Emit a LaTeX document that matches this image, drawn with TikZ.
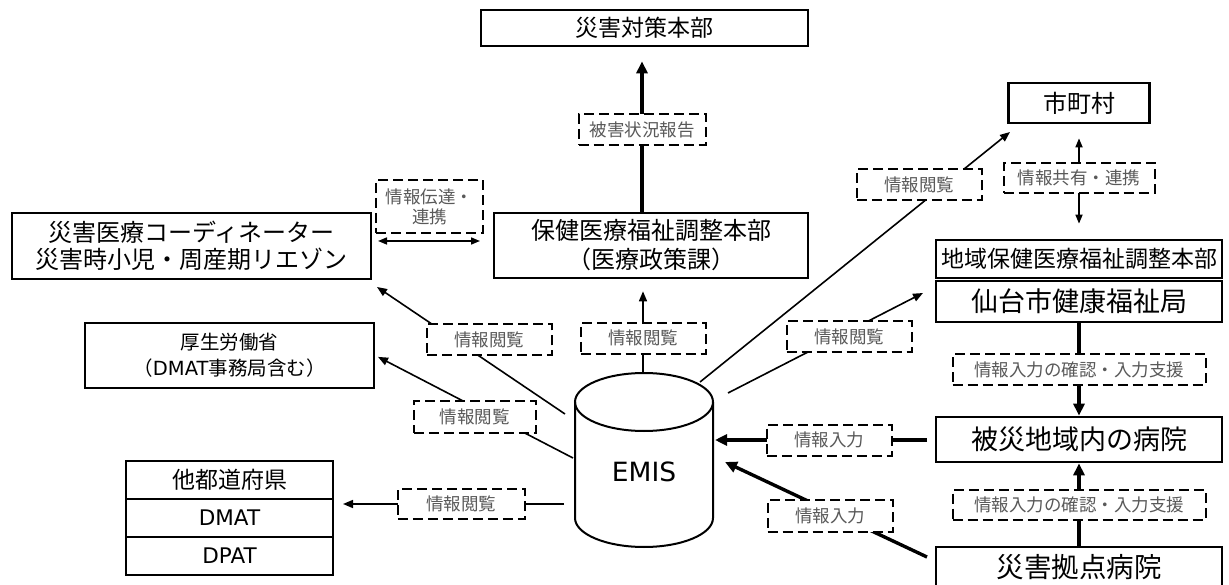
\documentclass[tikz,border=0pt]{standalone}
\usepackage{fontspec}
\setmainfont{Noto Sans CJK JP}
\newfontfamily\latinfont{DejaVu Sans}
\usepackage{tikz}
\usetikzlibrary{arrows.meta}
\definecolor{labelgray}{HTML}{595959}
\newcommand{\lat}[1]{{\latinfont #1}}
\tikzset{
  box/.style={draw, line width=2.7pt, inner sep=0pt, align=center},
  lbl/.style={draw, dash pattern=on 10pt off 5pt, line width=2pt, fill=white, text=labelgray,
    inner sep=0pt, minimum width=125pt, minimum height=31pt, align=center,
    font=\fontsize{17.5}{20}\selectfont},
  thinline/.style={line width=1.6pt},
  thinarrow/.style={line width=1.6pt, -{Triangle[length=10pt,width=8pt]}},
  biarrow/.style={line width=1.6pt, {Triangle[length=9pt,width=7pt]}-{Triangle[length=9pt,width=7pt]}},
  thickline/.style={line width=3.4pt},
  thickarrow/.style={line width=3.4pt, -{Triangle[length=12pt,width=11pt]}},
  cyl/.style={line width=2pt}
}

\begin{document}
\begin{tikzpicture}[x=1pt, y=-1pt]
\useasboundingbox (0,0) rectangle (1229,585);

% boxes
\node[box, minimum width=327pt, minimum height=36pt, font=\fontsize{23}{27}\selectfont] (taisaku) at (644.5,28) {災害対策本部};
\node[box, minimum width=314pt, minimum height=65pt, font=\fontsize{24}{29}\selectfont] (honbu) at (651,245.5) {保健医療福祉調整本部\\（医療政策課）};
\node[box, minimum width=359pt, minimum height=66pt, font=\fontsize{24}{27}\selectfont] (saigai) at (191.5,246) {災害医療コーディネーター\\災害時小児・周産期リエゾン};
\node[box, minimum width=289pt, minimum height=65pt, font=\fontsize{19.5}{26}\selectfont] (kousei) at (229.5,355.5) {厚生労働省\\（\lat{DMAT}事務局含む）};

% other prefectures
\node[box, minimum width=207pt, minimum height=38pt, font=\fontsize{23}{27}\selectfont] (pref) at (229.5,480) {他都道府県};
\node[box, minimum width=207pt, minimum height=38pt, font=\latinfont\fontsize{21.5}{25}\selectfont] (dmat) at (229.5,518) {DMAT};
\node[box, minimum width=207pt, minimum height=38pt, font=\latinfont\fontsize{21.5}{25}\selectfont] (dpat) at (229.5,556) {DPAT};

% right column
\node[box, minimum width=141pt, minimum height=40pt, font=\fontsize{24}{28}\selectfont] (shichoson) at (1079,103) {市町村};
\node[box, minimum width=286pt, minimum height=38pt, font=\fontsize{23}{27}\selectfont] (chiiki) at (1079,259) {地域保健医療福祉調整本部};
\node[box, minimum width=286pt, minimum height=41pt, font=\fontsize{27}{31}\selectfont] (sendai) at (1079,301.5) {仙台市健康福祉局};
\node[box, minimum width=286pt, minimum height=45pt, font=\fontsize{27}{31}\selectfont] (hisai) at (1079,439.5) {被災地域内の病院};
\node[box, minimum width=286pt, minimum height=41pt, font=\fontsize{27.5}{31}\selectfont] (kyoten) at (1079,567.5) {災害拠点病院};

% EMIS
\node[font=\latinfont\fontsize{26.5}{30}\selectfont] (emis) at (644,472) {EMIS};
\draw[cyl] (575,402) -- (575,518) arc[start angle=180, end angle=360, x radius=69pt, y radius=29pt] -- (713,402);
\draw[cyl] (644,402) ellipse [x radius=69pt, y radius=29pt];

\coordinate (emisN) at (643,373);
\coordinate (emisNE) at (700,382);
\coordinate (emisE1) at (728,393);
\coordinate (emisE2) at (715,440);
\coordinate (emisE3) at (725,462);
\coordinate (emisW1) at (565,414);
\coordinate (emisW2) at (573,458);
\coordinate (emisW3) at (564,504);
\coordinate (colT) at (642,0);
\coordinate (saigaiIn) at (377,287);
\coordinate (prefIn) at (343,504);
\coordinate (shiIn) at (1010,132);
\coordinate (sendaiIn) at (923,293);
\coordinate (hisaiOut) at (927,440);
\coordinate (kyotenOut) at (927,557);
\coordinate (renA) at (378,241);
\coordinate (renB) at (480,241);

% connectors
\draw[thickarrow, shorten >=14pt] (honbu.north -| colT) -- node[lbl, minimum width=127pt] (lHigai) {被害状況報告} (taisaku.south -| colT);
\draw[thinarrow, shorten >=12pt] (emisN) -- node[lbl, pos=.37] (lHonbu) {情報閲覧} (emisN |- honbu.south);
\draw[thinarrow] (emisW1) -- node[lbl, pos=.583, xshift=34pt] (lSaigai) {情報閲覧} (saigaiIn);
\draw[thinarrow, shorten >=3pt] (emisW2) -- node[lbl, pos=.4, xshift=-19pt, minimum width=122pt, minimum height=32pt] (lKousei) {情報閲覧} (kousei.east);
\draw[thinarrow] (emisW3) -- node[lbl, pos=.464, minimum width=127pt, minimum height=30pt] (lPref) {情報閲覧} (prefIn);
\draw[thinarrow] (emisNE) -- node[lbl, pos=.788, xshift=-25pt] (lShi) {情報閲覧} (shiIn);
\draw[thinarrow] (emisE1) -- node[lbl, pos=.565, xshift=11pt] (lSendai) {情報閲覧} (sendaiIn);
\draw[thickarrow] (hisaiOut) -- node[lbl, pos=.46] (lInA) {情報入力} (emisE2);
\draw[thickarrow] (kyotenOut) -- node[lbl, pos=.43, xshift=-10pt, minimum height=32pt] (lInB) {情報入力} (emisE3);

\draw[biarrow, shorten <=14pt, shorten >=15pt] (shichoson.south) -- node[lbl, minimum width=151pt, minimum height=30pt, pos=.47] (lKyoyu) {情報共有・連携} (chiiki.north);
\draw[thickarrow] (sendai.south) -- node[lbl, minimum width=253pt] (lKakuninA) {情報入力の確認・入力支援} (hisai.north);
\draw[thickarrow] (kyoten.north) -- node[lbl, minimum width=253pt, minimum height=30pt] (lKakuninB) {情報入力の確認・入力支援} (hisai.south);

\draw[biarrow] (renA) -- (renB);
\node[lbl, minimum width=107pt, minimum height=53pt] (lRenkei) at (429.5,206.5) {情報伝達・\\連携};

\end{tikzpicture}
\end{document}
